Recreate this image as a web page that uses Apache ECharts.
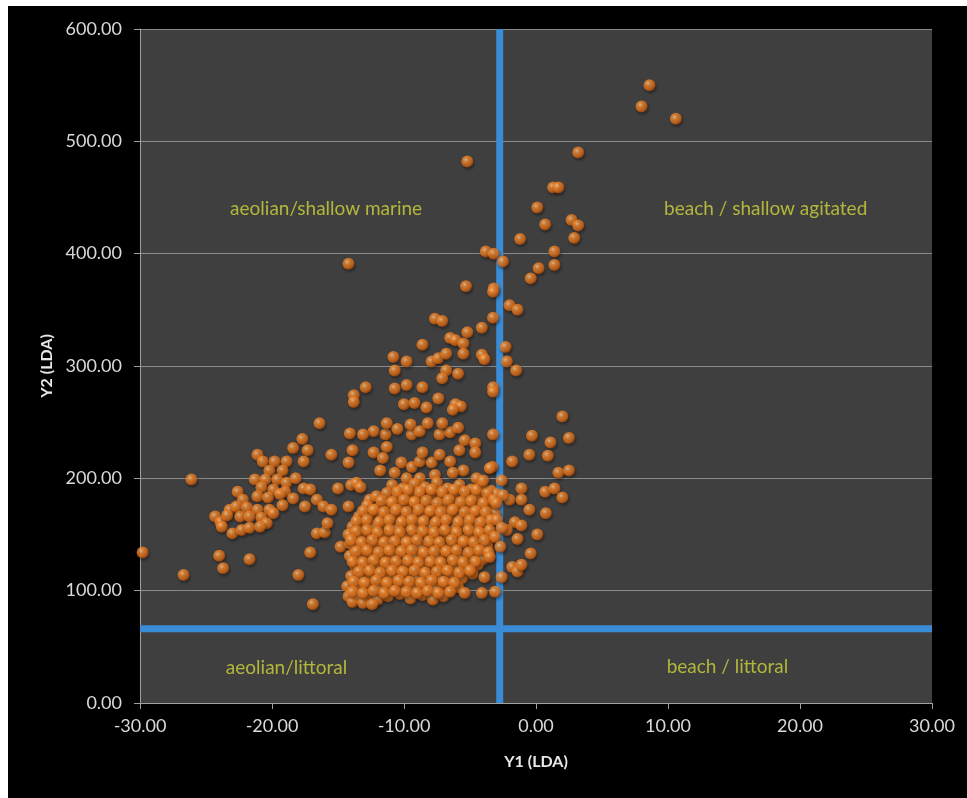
<!DOCTYPE html>
<html>
<head>
<meta charset="utf-8">
<script src="https://cdn.jsdelivr.net/npm/echarts@6/dist/echarts.min.js"></script>
<style>
  html, body { margin: 0; padding: 0; background: #ffffff; }
  #chart { position: absolute; left: 8px; top: 6px; width: 959px; height: 792px; background: #000000; }
</style>
</head>
<body>
<div id="chart"></div>
<script>
// ---- axis settings ----
const y1Ticks = [-30, -20, -10, 0, 10, 20, 30];
const y2Ticks = [0, 100, 200, 300, 400, 500, 600];
const y1Divider = -2.75;
const y2Divider = 66;

// ---- quadrant labels ----
const quadrantNames = ['aeolian/shallow marine', 'beach / shallow agitated', 'aeolian/littoral', 'beach / littoral'];
const quadrantY1 = [-15.9, 17.4, -18.9, 14.5];
const quadrantY2 = [440, 440, 31, 32];

// ---- samples [Y1, Y2] ----
const upperArm = [
  [8.6,550],[8.0,531],[10.6,520],[3.2,490],[-5.2,482],[1.3,459],[1.7,459],[0.1,441],[0.7,426],[2.7,430],
  [3.2,425],[2.9,414],[-1.2,413],[1.4,402],[1.4,390],[0.2,387],[-0.4,378],[-3.8,402],[-3.2,400],[-2.5,393],
  [-14.2,391],[-5.3,371],[-3.2,369],[-3.25,366],[-2.0,354],[-1.4,350],[-7.65,342],[-7.1,340],[-3.25,343],[-4.1,334],
  [-5.2,330],[-6.5,325],[-6.1,323],[-5.5,320],[-8.6,319],[-2.3,317],[-10.8,308],[-9.8,304],[-7.9,304],[-7.4,307],
  [-6.8,311],[-5.5,311],[-4.1,310],[-3.9,306],[-2.2,304],[-1.5,296],[-10.7,296],[-6.8,296],[-5.9,293],[-7.1,289],
  [-12.9,281],[-10.7,280],[-9.8,283],[-8.6,281],[-3.25,281],[-3.25,277],[-13.8,274],[-13.8,268],[-10.0,266],[-9.2,267],
  [-8.3,263],[-7.4,271],[-6.1,266],[-5.7,264],[-6.3,261],
  [-11.3,249],[-10.5,244],[-9.5,248],[-8.8,242],[-8.2,249],[-7.1,249],[-5.9,245],[-12.3,242],[-14.1,240],[-13.1,239],
  [-3.25,239],[2.0,255]
];

const rightGroup = [
  [-0.3,238],[1.1,232],[2.5,236],[-0.5,221],[0.9,220],[-1.8,215],[-4.6,231],[-4.6,223],[-3.5,209],[1.7,205],
  [2.5,207],[-2.6,198],[-4.0,198],[-1.1,191],[0.7,188],[1.4,191],[2.0,183],[-2.0,181],[-1.1,181],[-0.5,172],
  [0.75,169],[-1.6,161],[-1.1,158],[0.1,150],[-2.2,154],[-1.4,146],[-0.4,133],[-1.8,121],[-1.4,117],[-1.1,123],
  [-2.6,112],[-3.9,112],[-4.1,98],[-3.1,99],[-5.4,98],
  [-2.95,163],[-2.6,156],[-3.1,148],[-2.7,139],[-3.5,130],[-2.5,185],[-3.0,178]
];

const midScatter = [
  [-11.4,239],[-9.4,239],[-7.3,239],[-6.5,241],[-5.4,234],[-12.3,223],[-11.3,228],[-11.6,218],[-10.2,214],[-9.4,210],
  [-8.8,215],[-7.9,214],[-7.3,221],[-8.6,223],[-6.5,215],[-5.8,225],[-5.5,207],[-4.5,200],[-3.3,210],[-11.8,207],
  [-13.3,192],[-10.7,205],[-9.8,200],[-8.8,200],[-7.65,203],[-6.3,205],[-12.6,181]
];

const leftCluster = [
  [-16.4,249],[-13.9,225],[-14.2,214],[-15.5,221],[-17.7,235],[-18.4,227],[-17.3,225],[-17.6,215],[-21.1,221],[-20.7,215],
  [-19.8,215],[-18.9,215],[-19.2,207],[-20.2,207],[-26.1,199],[-21.3,199],[-20.5,199],[-19.6,199],[-18.9,196],[-18.2,200],
  [-22.6,188],[-20.8,192],[-19.9,190],[-19.0,188],[-17.6,191],[-17.1,190],[-15.0,191],[-14.0,194],[-13.6,196],[-22.2,181],
  [-21.1,184],[-20.3,183],[-19.4,186],[-18.4,182],[-16.6,181],[-23.2,172],[-22.7,175],[-21.9,174],[-21.1,172],[-20.2,172],
  [-19.2,176],[-17.5,175],[-16.1,175],[-15.5,172],[-14.2,175],[-24.3,166],[-23.9,161],[-23.4,167],[-22.4,166],[-21.7,166],
  [-20.8,165],[-19.9,169],[-20.4,160],[-23.8,157],[-23.0,151],[-22.3,154],[-21.7,156],[-20.9,157],[-16.6,151],[-16.0,152],
  [-15.8,160],[-14.8,139],[-13.9,148],[-14.1,142],[-29.8,134],[-24.0,131],[-23.7,120],[-21.7,128],[-17.1,134],[-26.7,114],
  [-18.0,114],[-16.9,88]
];

const denseCluster = [
  [-10.9,194],[-10.1,191],[-9.2,195],[-8.4,192],[-7.5,196],[-6.7,191],[-5.8,194],[-4.9,190],[-4.1,193],[-3.4,189],
  [-12.1,184],[-11.3,187],[-10.5,183],[-9.6,186],[-8.8,184],[-7.9,187],[-7.1,183],[-6.2,186],[-5.3,182],[-4.5,185],[-3.7,181],[-3.0,186],
  [-12.8,176],[-12.0,173],[-11.1,177],[-10.3,174],[-9.4,178],[-8.6,175],[-7.7,172],[-6.9,177],[-6.0,174],[-5.1,176],[-4.3,173],[-3.5,177],
  [-13.4,166],[-12.5,169],[-11.7,165],[-10.8,168],[-10.0,164],[-9.1,167],[-8.2,169],[-7.4,165],[-6.5,168],[-5.7,164],[-4.8,167],[-3.9,165],[-3.1,169],
  [-13.9,157],[-13.0,160],[-12.2,156],[-11.3,159],[-10.5,155],[-9.6,158],[-8.7,160],[-7.9,156],[-7.0,159],[-6.1,155],[-5.3,158],[-4.4,156],[-3.6,159],
  [-14.2,150],[-13.4,147],[-12.6,151],[-11.7,148],[-10.9,150],[-10.0,146],[-9.2,149],[-8.3,151],[-7.5,147],[-6.6,150],[-5.7,146],[-4.9,149],[-4.0,151],[-3.3,147],
  [-13.8,140],[-13.0,138],[-12.1,141],[-11.3,137],[-10.4,140],[-9.6,142],[-8.7,138],[-7.9,141],[-7.0,137],[-6.2,140],[-5.3,142],[-4.5,138],[-3.7,140],
  [-14.1,131],[-13.3,129],[-12.5,132],[-11.6,128],[-10.8,131],[-9.9,133],[-9.1,129],[-8.2,131],[-7.4,128],[-6.5,132],[-5.7,129],[-4.8,131],[-4.0,128],
  [-13.7,122],[-12.9,120],[-12.0,123],[-11.2,119],[-10.3,122],[-9.5,124],[-8.6,120],[-7.8,123],[-6.9,119],[-6.1,122],[-5.2,120],[-4.4,123],
  [-14.0,113],[-13.2,111],[-12.4,114],[-11.5,110],[-10.7,113],[-9.8,115],[-9.0,111],[-8.1,113],[-7.3,110],[-6.4,114],[-5.6,111],[-4.8,115],
  [-14.3,104],[-13.5,102],[-12.7,105],[-11.8,101],[-11.0,104],[-10.1,106],[-9.3,102],[-8.4,104],[-7.6,101],[-6.8,105],[-5.9,103],
  [-14.2,95],[-13.5,93],[-12.8,96],[-12.0,92],[-11.2,95],[-10.3,97],[-9.5,93],[-8.6,96],[-7.8,92],[-7.0,95],
  [-13.9,90],[-13.1,89],[-12.4,88]
];

const denseOverlap = [
  [-10.5,188],[-9.7,190],[-8.8,188],[-7.9,190],[-7.1,188],[-6.2,190],[-5.4,188],[-4.5,190],[-3.7,187],
  [-11.7,180],[-10.9,179],[-10.0,181],[-9.2,179],[-8.3,180],[-7.5,178],[-6.6,181],[-5.7,179],[-4.9,180],[-4.0,178],[-3.2,181],
  [-13.1,171],[-12.3,172],[-11.5,170],[-10.6,172],[-9.8,170],[-8.9,172],[-8.0,171],[-7.2,170],[-6.3,172],[-5.4,170],[-4.6,171],[-3.8,170],
  [-13.6,162],[-12.8,163],[-11.9,161],[-11.1,163],[-10.2,161],[-9.4,163],[-8.5,162],[-7.6,161],[-6.8,163],[-5.9,161],[-5.0,163],[-4.2,161],[-3.4,163],
  [-13.6,153],[-12.8,154],[-12.0,152],[-11.1,154],[-10.3,152],[-9.4,154],[-8.6,153],[-7.7,152],[-6.9,154],[-6.0,152],[-5.1,154],[-4.3,152],[-3.5,154],
  [-14.0,145],[-13.2,143],[-12.4,145],[-11.5,143],[-10.7,144],[-9.8,143],[-9.0,145],[-8.1,144],[-7.3,143],[-6.4,145],[-5.5,144],[-4.7,143],[-3.9,145],
  [-13.6,135],[-12.8,136],[-11.9,134],[-11.1,136],[-10.2,135],[-9.4,136],[-8.5,134],[-7.7,135],[-6.8,135],[-6.0,136],[-5.1,134],[-4.3,136],[-3.6,134],
  [-13.9,126],[-13.1,125],[-12.3,127],[-11.4,125],[-10.6,126],[-9.7,127],[-8.9,125],[-8.0,126],[-7.2,125],[-6.3,127],[-5.5,125],[-4.6,126],
  [-13.4,117],[-12.6,118],[-11.8,116],[-10.9,118],[-10.1,117],[-9.2,118],[-8.4,116],[-7.5,117],[-6.7,118],[-5.8,116],[-5.0,118],
  [-13.8,108],[-13.0,107],[-12.1,109],[-11.3,107],[-10.4,109],[-9.6,108],[-8.7,107],[-7.9,109],[-7.0,108],[-6.2,107],
  [-13.9,99],[-13.1,98],[-12.3,100],[-11.5,98],[-10.7,100],[-9.8,99],[-9.0,98],[-8.2,100],[-7.4,98],[-6.5,99]
];

const allSamples = [].concat(leftCluster, midScatter, upperArm, denseCluster, denseOverlap, rightGroup);

const chart = echarts.init(document.getElementById('chart'), null, { renderer: 'canvas' });
const FONT = 'Lato';

const ballColor = {
  type: 'radial', x: 0.38, y: 0.35, r: 0.7,
  colorStops: [
    { offset: 0, color: '#ffd2a4' },
    { offset: 0.3, color: '#f28c32' },
    { offset: 0.72, color: '#d86a18' },
    { offset: 1, color: '#8e3c06' }
  ]
};

chart.setOption({
  backgroundColor: '#000000',
  animation: false,
  grid: {
    left: 132, top: 23, right: 35, bottom: 95,
    show: true, backgroundColor: '#3f3f3f', borderWidth: 0
  },
  xAxis: {
    type: 'value',
    min: y1Ticks[0], max: y1Ticks[y1Ticks.length - 1], interval: 10,
    name: 'Y1 (LDA)', nameLocation: 'middle', nameGap: 51,
    nameTextStyle: { color: '#e8e8e8', fontFamily: FONT, fontWeight: 'bold', fontSize: 16 },
    axisLine: { show: true, onZero: false, lineStyle: { color: '#a0a0a0', width: 1 } },
    axisTick: { show: true, length: 6, lineStyle: { color: '#a0a0a0' } },
    axisLabel: { color: '#d9d9d9', fontFamily: FONT, fontSize: 18, margin: 14,
      formatter: v => v.toFixed(2) },
    splitLine: { show: false }
  },
  yAxis: {
    type: 'value',
    min: y2Ticks[0], max: y2Ticks[y2Ticks.length - 1], interval: 100,
    name: 'Y2 (LDA)', nameLocation: 'middle', nameGap: 84,
    nameTextStyle: { color: '#e8e8e8', fontFamily: FONT, fontWeight: 'bold', fontSize: 16 },
    axisLine: { show: true, onZero: false, lineStyle: { color: '#a0a0a0', width: 1 } },
    axisTick: { show: true, length: 6, lineStyle: { color: '#a0a0a0' } },
    axisLabel: { color: '#d9d9d9', fontFamily: FONT, fontSize: 18, margin: 18,
      formatter: v => v.toFixed(2) },
    splitLine: { show: true, lineStyle: { color: '#8a8a8a', width: 1 } }
  },
  series: [
    {
      type: 'line', z: 1, symbol: 'none', silent: true,
      lineStyle: { color: '#3a8cd6', width: 7 },
      data: [[y1Divider, y2Ticks[0]], [y1Divider, y2Ticks[y2Ticks.length - 1]]]
    },
    {
      type: 'line', z: 1, symbol: 'none', silent: true,
      lineStyle: { color: '#3a8cd6', width: 7 },
      data: [[y1Ticks[0], y2Divider], [y1Ticks[y1Ticks.length - 1], y2Divider]]
    },
    {
      type: 'scatter', z: 3, symbol: 'circle', symbolSize: 12,
      itemStyle: { color: ballColor, shadowBlur: 3, shadowColor: 'rgba(0,0,0,0.5)', shadowOffsetX: 1, shadowOffsetY: 2 },
      data: allSamples
    },
    {
      type: 'scatter', z: 4, symbolSize: 0, silent: true,
      label: {
        show: true, position: 'inside', color: '#cfd53a', fontFamily: FONT, fontSize: 19,
        formatter: p => quadrantNames[p.dataIndex]
      },
      data: quadrantNames.map((n, i) => [quadrantY1[i], quadrantY2[i]])
    }
  ]
});
</script>
</body>
</html>
